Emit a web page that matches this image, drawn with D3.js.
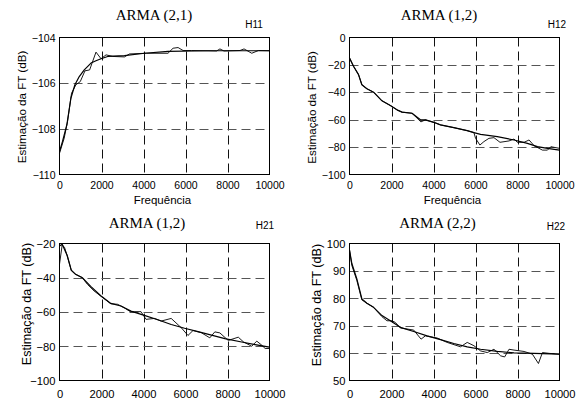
<!DOCTYPE html>
<html>
<head>
<meta charset="utf-8">
<script src="https://cdn.jsdelivr.net/npm/d3@7"></script>
<style>
  html, body { margin: 0; padding: 0; background: #fff; }
  svg { display: block; }
</style>
</head>
<body>
<svg id="chart" width="585" height="401"></svg>
<script>
// ---------- DATA ----------
const xTicks = [0, 2000, 4000, 6000, 8000, 10000];

// H11 : ARMA (2,1)
const h11Ticks = [-110, -108, -106, -104];
const h11EstF  = [0, 223, 383, 574, 781, 989, 1212, 1435, 1738, 1978, 2217, 2536, 3094, 3333, 4131, 5167, 5407, 5646, 5885, 6284, 7480, 7640, 7831, 8596, 8788, 9155, 9474, 10000];
const h11EstDb = [-109.07, -108.41, -107.68, -106.44, -106.07, -105.93, -105.46, -105.42, -104.64, -104.93, -104.76, -104.83, -104.85, -104.72, -104.69, -104.69, -104.47, -104.44, -104.57, -104.57, -104.59, -104.50, -104.59, -104.57, -104.50, -104.69, -104.57, -104.58];
const h11ModF  = [0, 144, 351, 542, 734, 941, 1180, 1499, 1738, 1978, 2297, 3094, 4051, 5167, 7081, 10000];
const h11ModDb = [-109.0, -108.55, -107.82, -106.66, -106.07, -105.71, -105.42, -105.12, -105.02, -104.93, -104.83, -104.79, -104.69, -104.61, -104.58, -104.58];

// H12 : ARMA (1,2)
const h12Ticks = [-100, -80, -60, -40, -20, 0];
const h12EstF  = [0, 191, 430, 589, 828, 1146, 1545, 1943, 2261, 2500, 2978, 3400, 3615, 4013, 4331, 4968, 5605, 5924, 6003, 6210, 6401, 6640, 6879, 7166, 7596, 7834, 7994, 8312, 8551, 8790, 9188, 9427, 9586, 10000];
const h12EstDb = [-14.9, -21, -27.1, -34.5, -37.4, -39.9, -46.2, -49.6, -52.8, -54.5, -55.3, -61.6, -60.1, -61.9, -63.8, -65.8, -68, -69.4, -73.6, -78.5, -76.0, -73.6, -73.1, -76.5, -75.5, -74.1, -76.5, -76.5, -74.8, -79.0, -82.2, -82.2, -79.7, -80.9];
const h12ModF  = [0, 191, 430, 589, 828, 1146, 1545, 1943, 2261, 2500, 2978, 3376, 3615, 4013, 4331, 4968, 5605, 5924, 6242, 7038, 7834, 8471, 8949, 9427, 10000];
const h12ModDb = [-14.9, -21, -27.1, -34.5, -37.4, -39.9, -46.2, -49.6, -52.8, -54.5, -55.3, -60.1, -60.1, -61.9, -63.8, -65.8, -68, -69.4, -70.7, -72.4, -74.8, -77.3, -79.7, -80.9, -82.2];

// H21 : ARMA (1,2)
const h21Ticks = [-100, -80, -60, -40, -20];
const h21EstF  = [0, 128, 240, 367, 559, 767, 1086, 1326, 1645, 1965, 2444, 2764, 3083, 3371, 3562, 3882, 4121, 4521, 4840, 5319, 5799, 6118, 6358, 6757, 7157, 7396, 7636, 8035, 8514, 8754, 9153, 9393, 9633, 9792, 10000];
const h21EstDb = [-32.1, -20.8, -22.3, -27.2, -35.6, -38.0, -39.9, -43.8, -47.7, -50.7, -55.2, -55.5, -57.5, -59.8, -59.8, -59.8, -64.3, -63.75, -65.3, -63.75, -69.2, -73.7, -70.8, -72.1, -75.1, -71.6, -72.2, -76.6, -74.7, -77.4, -80.0, -77.0, -79.4, -81.3, -81.3];
const h21ModF  = [0, 128, 367, 559, 767, 1086, 1486, 1965, 2444, 2923, 3403, 4000, 4681, 5319, 5958, 6597, 7236, 7875, 8674, 9313, 10000];
const h21ModDb = [-21.5, -20.5, -27.0, -35.6, -38.0, -40.0, -45.0, -50.5, -55.0, -56.5, -59.5, -61.8, -64.5, -67.3, -69.5, -71.5, -73.5, -75.5, -77.5, -79.0, -80.5];

// H22 : ARMA (2,2)
const h22Ticks = [50, 60, 70, 80, 90, 100];
const h22EstF  = [0, 111, 350, 589, 828, 1146, 1545, 1783, 2022, 2182, 2420, 3057, 3408, 3615, 4172, 4650, 5287, 5605, 5924, 6242, 6561, 6879, 7197, 7389, 7596, 7834, 8312, 8710, 8997, 9188, 9506, 10000];
const h22EstDb = [97.6, 92.0, 86.5, 79.4, 78.2, 76.7, 73.3, 71.8, 71.8, 71.2, 69.2, 68.4, 65.1, 66.3, 65.5, 63.9, 62.3, 63.9, 62.7, 60.8, 60.2, 61.4, 59.0, 58.6, 61.4, 61.1, 60.6, 59.6, 56.2, 60.2, 59.9, 59.6];
const h22ModF  = [0, 111, 350, 589, 828, 1146, 1545, 1943, 2420, 3057, 3694, 4331, 4968, 5605, 6242, 7038, 7834, 8790, 10000];
const h22ModDb = [97.6, 92.7, 87.1, 79.8, 78.2, 76.7, 73.7, 71.8, 69.4, 67.9, 66.3, 64.9, 63.5, 62.3, 61.4, 60.6, 60.1, 59.9, 59.6];

// ---------- LAYOUT ----------
const panels = [
  { title: "ARMA (2,1)", tag: "H11", ticks: h11Ticks, est: [h11EstF, h11EstDb], mod: [h11ModF, h11ModDb],
    x0: 59.5, x1: 269.5, y0: 37.5, y1: 174.5, titleX: 154, titleY: 20, tagX: 254, tagY: 28,
    ylabX: 26, ylabY: 107, ylabSize: 11.6, tickSize: 10.5, tickY: 188.5, xlab: true },
  { title: "ARMA (1,2)", tag: "H12", ticks: h12Ticks, est: [h12EstF, h12EstDb], mod: [h12ModF, h12ModDb],
    x0: 349.5, x1: 559.5, y0: 37.5, y1: 174.5, titleX: 439, titleY: 20, tagX: 557, tagY: 28,
    ylabX: 316, ylabY: 107.5, ylabSize: 11.6, tickSize: 10.5, tickY: 188.5, xlab: true },
  { title: "ARMA (1,2)", tag: "H21", ticks: h21Ticks, est: [h21EstF, h21EstDb], mod: [h21ModF, h21ModDb],
    x0: 59.5, x1: 269.5, y0: 243.5, y1: 380.5, titleX: 147, titleY: 228, tagX: 265, tagY: 229,
    ylabX: 31, ylabY: 304, ylabSize: 12.6, tickSize: 11.2, tickY: 397.5, xlab: false },
  { title: "ARMA (2,2)", tag: "H22", ticks: h22Ticks, est: [h22EstF, h22EstDb], mod: [h22ModF, h22ModDb],
    x0: 349.5, x1: 559.5, y0: 243.5, y1: 380.5, titleX: 437.5, titleY: 228, tagX: 556, tagY: 230,
    ylabX: 321, ylabY: 305, ylabSize: 12.6, tickSize: 11.2, tickY: 397.5, xlab: false }
];

const svg = d3.select("#chart");
const sans = "'Liberation Sans', Arial, sans-serif";
const serif = "'Liberation Serif', 'Times New Roman', serif";

panels.forEach(p => {
  const g = svg.append("g");
  const x = d3.scaleLinear().domain([0, 10000]).range([p.x0, p.x1]);
  const y = d3.scaleLinear().domain([p.ticks[0], p.ticks[p.ticks.length - 1]]).range([p.y1, p.y0]);

  // grid
  g.selectAll(".vg").data(xTicks.slice(1, -1)).join("line")
    .attr("x1", d => Math.round(x(d)) + 0.5).attr("x2", d => Math.round(x(d)) + 0.5)
    .attr("y1", p.y0).attr("y2", p.y1)
    .attr("stroke", "#111").attr("stroke-width", 1).attr("stroke-dasharray", "9,5");
  g.selectAll(".hg").data(p.ticks.slice(1, -1)).join("line")
    .attr("x1", p.x0).attr("x2", p.x1)
    .attr("y1", d => Math.round(y(d)) + 0.5).attr("y2", d => Math.round(y(d)) + 0.5)
    .attr("stroke", "#555").attr("stroke-width", 1).attr("stroke-dasharray", "9,5");

  // lines
  const line = d3.line().x(d => x(d[0])).y(d => y(d[1]));
  const est = p.est[0].map((f, i) => [f, p.est[1][i]]);
  const mod = p.mod[0].map((f, i) => [f, p.mod[1][i]]);
  g.append("path").datum(est).attr("d", line).attr("fill", "none")
    .attr("stroke", "#000").attr("stroke-width", 0.9).attr("stroke-linejoin", "round");
  g.append("path").datum(mod).attr("d", line).attr("fill", "none")
    .attr("stroke", "#000").attr("stroke-width", 1.2).attr("stroke-linejoin", "round");

  // frame
  g.append("rect").attr("x", p.x0).attr("y", p.y0)
    .attr("width", p.x1 - p.x0).attr("height", p.y1 - p.y0)
    .attr("fill", "none").attr("stroke", "#000").attr("stroke-width", 1);

  // y axis labels
  const yAxis = d3.axisLeft(y).tickValues(p.ticks).tickSize(0).tickPadding(4).tickFormat(d3.format("d"));
  const ya = g.append("g").attr("transform", `translate(${p.x0},0)`).call(yAxis);
  ya.select(".domain").remove();
  ya.selectAll("text").attr("font-family", sans).attr("font-size", p.tickSize).attr("fill", "#000")
    .attr("dy", "0.35em");

  // x axis labels
  const xAxis = d3.axisBottom(x).tickValues(xTicks).tickSize(0).tickFormat(d3.format("d"));
  const xa = g.append("g").attr("transform", `translate(0,${p.y1})`).call(xAxis);
  xa.select(".domain").remove();
  xa.selectAll("text").attr("font-family", sans).attr("font-size", p.tickSize).attr("fill", "#000")
    .attr("y", p.tickY - p.y1).attr("dy", 0);

  // titles
  g.append("text").attr("x", p.titleX).attr("y", p.titleY).attr("text-anchor", "middle")
    .attr("font-family", serif).attr("font-size", 15).text(p.title);
  g.append("text").attr("x", p.tagX).attr("y", p.tagY).attr("text-anchor", "middle")
    .attr("font-family", sans).attr("font-size", 10).text(p.tag);

  // y label
  g.append("text").attr("transform", `translate(${p.ylabX},${p.ylabY}) rotate(-90)`)
    .attr("text-anchor", "middle").attr("font-family", sans).attr("font-size", p.ylabSize)
    .text("Estimação da FT (dB)");

  if (p.xlab) {
    g.append("text").attr("x", (p.x0 + p.x1) / 2 - 2).attr("y", 204).attr("text-anchor", "middle")
      .attr("font-family", sans).attr("font-size", 11.5).text("Frequência");
  }
});
</script>
</body>
</html>
